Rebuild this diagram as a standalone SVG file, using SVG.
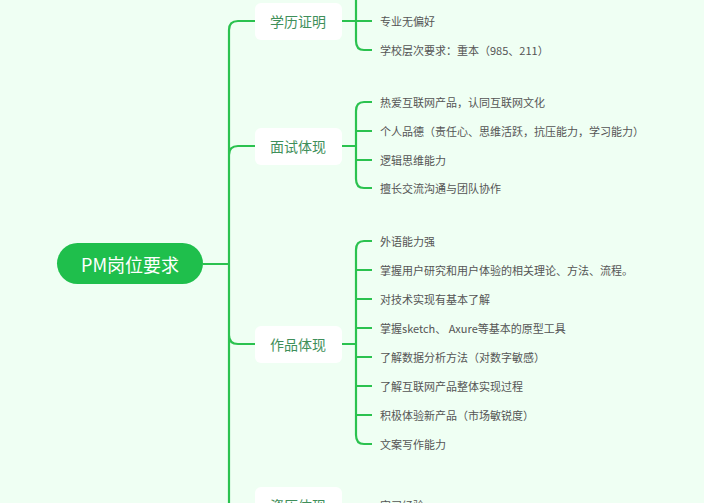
<svg xmlns="http://www.w3.org/2000/svg" width="704" height="503" viewBox="0 0 704 503">
<style>
.c{fill:none;stroke:#2bc24f;stroke-width:2.2}
.b{fill:#fff}
.bt{font-family:"Noto Sans CJK SC",sans-serif;font-size:14px;fill:#3f8f5a;text-anchor:middle;dominant-baseline:central}
.lt{font-family:"Noto Sans CJK SC",sans-serif;font-size:11px;fill:#555;dominant-baseline:central}
</style>
<rect width="704" height="503" fill="#effff3"/>
<g id="connectors">
<path class="c" d="M203 264H229M229 264V30Q229 21 238 21H255M229 155Q229 146 238 146H255M229 335Q229 344 238 344H255M229 264V505"/>
<path class="c" d="M342 21H356M356 -20V41Q356 50 364 50H372M356 21H372"/>
<path class="c" d="M342 146H356M356 111Q356 102 364 102H372M356 111V179Q356 188 364 188H372M356 131H372M356 160H372"/>
<path class="c" d="M342 344H356M356 250Q356 241 364 241H372M356 250V435Q356 444 364 444H372M356 270H372M356 299H372M356 328H372M356 357H372M356 386H372M356 415H372"/>
</g>
<g id="root"><rect x="57" y="243" width="146" height="41" rx="20.5" fill="#1fbf4c"/><text x="130" y="264" font-family="Noto Sans CJK SC,sans-serif" font-size="18" fill="#fff" text-anchor="middle" dominant-baseline="central">PM岗位要求</text></g>
<g id="n1"><rect class="b" x="255" y="3" width="87" height="37" rx="6"/><text class="bt" x="298" y="21">学历证明</text></g>
<g id="n2"><rect class="b" x="255" y="128" width="87" height="37" rx="6"/><text class="bt" x="298" y="146">面试体现</text></g>
<g id="n3"><rect class="b" x="255" y="326" width="87" height="37" rx="6"/><text class="bt" x="298" y="344">作品体现</text></g>
<g id="n4"><rect class="b" x="255" y="487" width="87" height="37" rx="6"/><text class="bt" x="298" y="505">资历体现</text></g>
<g id="leaves">
<text class="lt" x="380" y="21">专业无偏好</text>
<text class="lt" x="380" y="50">学校层次要求：重本（985、211）</text>
<text class="lt" x="380" y="102">热爱互联网产品，认同互联网文化</text>
<text class="lt" x="380" y="131">个人品德（责任心、思维活跃，抗压能力，学习能力）</text>
<text class="lt" x="380" y="160">逻辑思维能力</text>
<text class="lt" x="380" y="188">擅长交流沟通与团队协作</text>
<text class="lt" x="380" y="241">外语能力强</text>
<text class="lt" x="380" y="270">掌握用户研究和用户体验的相关理论、方法、流程。</text>
<text class="lt" x="380" y="299">对技术实现有基本了解</text>
<text class="lt" x="380" y="328">掌握sketch、 Axure等基本的原型工具</text>
<text class="lt" x="380" y="357">了解数据分析方法（对数字敏感）</text>
<text class="lt" x="380" y="386">了解互联网产品整体实现过程</text>
<text class="lt" x="380" y="415">积极体验新产品（市场敏锐度）</text>
<text class="lt" x="380" y="444">文案写作能力</text>
<text class="lt" x="380" y="505">实习经验</text>
</g>
</svg>
